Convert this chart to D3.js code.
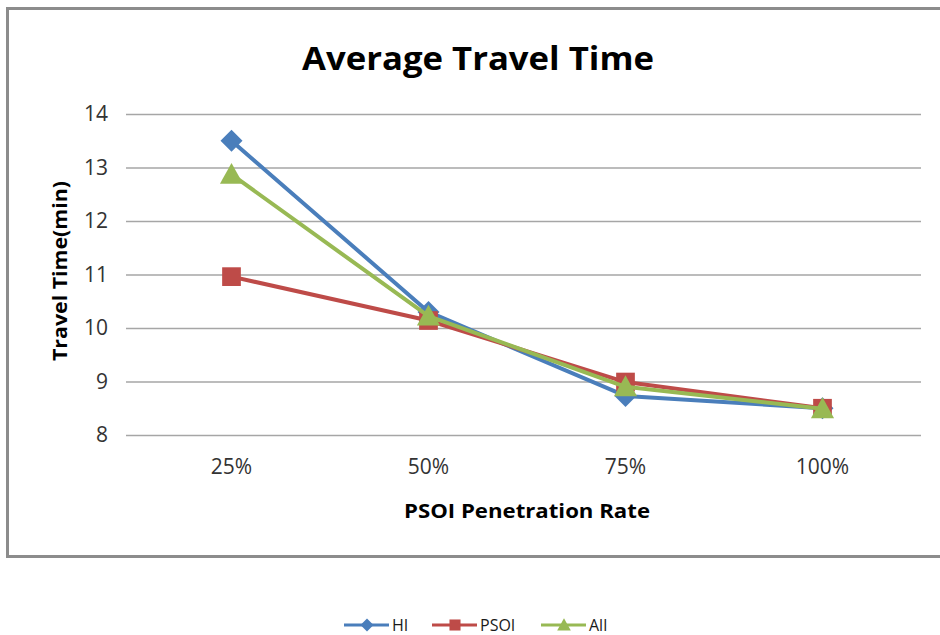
<!DOCTYPE html>
<html><head><meta charset="utf-8">
<script src="https://cdn.jsdelivr.net/npm/d3@7"></script>
<style>body{margin:0;background:#fff;} text{font-family:"Open Sans","Noto Sans",sans-serif;}</style>
</head><body>
<svg id="c" width="940" height="635"></svg>
<script>
const categories = ["25%", "50%", "75%", "100%"];
const hiValues = [13.5, 10.3, 8.73, 8.5];
const psoiValues = [10.96, 10.14, 8.99, 8.5];
const allValues = [12.87, 10.22, 8.9, 8.49];
const yTicks = [8, 9, 10, 11, 12, 13, 14];
const seriesNames = ["HI", "PSOI", "All"];
const seriesColors = ["#4A7EBB", "#BE4B48", "#98B954"];
const seriesMarkers = ["diamond", "square", "triangle"];

const series = [hiValues, psoiValues, allValues].map((v, i) => ({
  name: seriesNames[i], values: v, color: seriesColors[i], marker: seriesMarkers[i]
}));

const svg = d3.select("#c");
// chart border
svg.append("rect").attr("x", 7.5).attr("y", 8.5).attr("width", 960).attr("height", 548)
  .attr("fill", "none").attr("stroke", "#8c8c8c").attr("stroke-width", 3);

const x = d3.scaleBand().domain(categories).range([133, 921]);
const y = d3.scaleLinear().domain([8, 14]).range([435, 114]);

// gridlines + y axis
const yAxis = d3.axisLeft(y).tickValues(yTicks).tickSize(-(921 - 133)).tickPadding(25).tickFormat(d3.format("d"));
const gy = svg.append("g").attr("transform", "translate(133,0)").call(yAxis);
gy.select(".domain").remove();
gy.selectAll(".tick line").attr("stroke", "#a6a6a6").attr("stroke-width", 1.5).attr("x1", -7);
gy.selectAll(".tick text").attr("font-size", 21).attr("fill", "#333");

// x axis labels
const xAxis = d3.axisBottom(x).tickSize(0).tickPadding(24);
const gx = svg.append("g").attr("transform", "translate(0,435)").call(xAxis);
gx.select(".domain").remove();
gx.selectAll(".tick text").attr("font-size", 21).attr("fill", "#333");

// title
svg.append("text").attr("x", 478).attr("y", 70).attr("text-anchor", "middle")
  .attr("font-size", 33).attr("font-weight", "bold").attr("fill", "#000")
  .attr("textLength", 352).attr("lengthAdjust", "spacingAndGlyphs")
  .text("Average Travel Time");
// axis titles
svg.append("text").attr("transform", "translate(67,271) rotate(-90)").attr("text-anchor", "middle")
  .attr("font-size", 19).attr("font-weight", "bold").attr("fill", "#000")
  .attr("textLength", 180).attr("lengthAdjust", "spacingAndGlyphs")
  .text("Travel Time(min)");
svg.append("text").attr("x", 527).attr("y", 518).attr("text-anchor", "middle")
  .attr("font-size", 19).attr("font-weight", "bold").attr("fill", "#000")
  .attr("textLength", 246).attr("lengthAdjust", "spacingAndGlyphs")
  .text("PSOI Penetration Rate");

const cx = c => x(c) + x.bandwidth() / 2;
const line = d3.line().x((d, i) => cx(categories[i])).y(d => y(d));

function marker(g, type, color, px, py, s) {
  if (type === "diamond") {
    g.append("path").attr("d", `M${px},${py - s}L${px + s},${py}L${px},${py + s}L${px - s},${py}Z`).attr("fill", color);
  } else if (type === "square") {
    g.append("rect").attr("x", px - s * 0.85).attr("y", py - s * 0.85).attr("width", s * 1.7).attr("height", s * 1.7).attr("fill", color);
  } else {
    g.append("path").attr("d", `M${px},${py - s * 1.05}L${px + s * 1.05},${py + s * 0.85}L${px - s * 1.05},${py + s * 0.85}Z`).attr("fill", color);
  }
}

series.forEach(s => {
  const g = svg.append("g");
  g.append("path").datum(s.values).attr("d", line).attr("fill", "none")
    .attr("stroke", s.color).attr("stroke-width", 4).attr("stroke-linejoin", "round");
  s.values.forEach((v, i) => marker(g, s.marker, s.color, cx(categories[i]), y(v), 11));
});

// legend
const legendX = [344, 432, 541];
const lg = svg.append("g");
series.forEach((s, i) => {
  const lx = legendX[i];
  lg.append("line").attr("x1", lx).attr("x2", lx + 45).attr("y1", 625).attr("y2", 625)
    .attr("stroke", s.color).attr("stroke-width", 3);
  marker(lg, s.marker, s.color, lx + 23, 625, 6.5);
  lg.append("text").attr("x", lx + 48).attr("y", 631).attr("font-size", 16)
    .attr("font-family", "'Liberation Sans', Arial, sans-serif").attr("fill", "#1a1a1a").text(s.name);
});
</script>
</body></html>
